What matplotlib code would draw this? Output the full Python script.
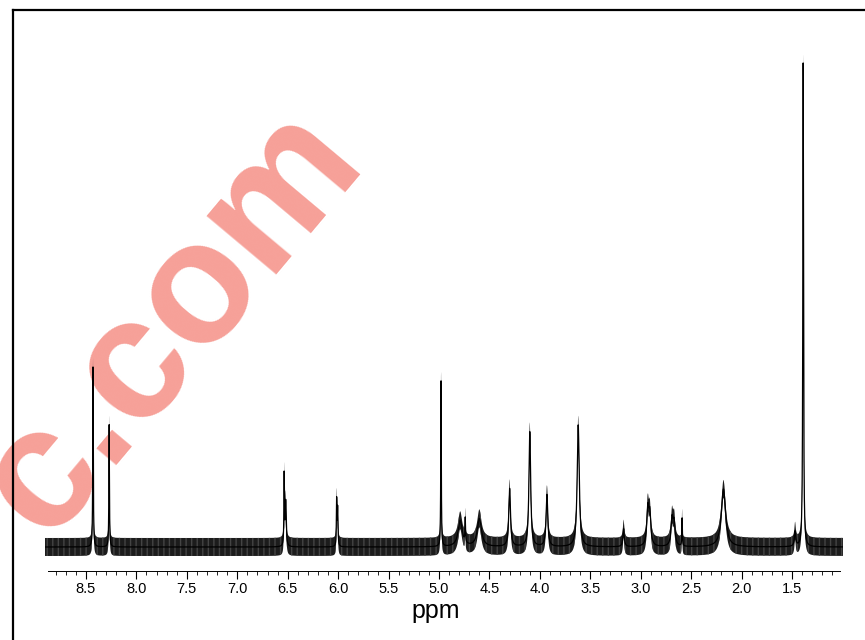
import numpy as np
import matplotlib
matplotlib.use("Agg")
import matplotlib.pyplot as plt
from matplotlib.lines import Line2D

# -------------------------------
# Peak table
# (shift in ppm, height above baseline, half width in ppm)
# -------------------------------
peak_ppm = [8.43, 8.27, 6.535, 6.52, 6.015, 6.005, 4.98, 4.79, 4.74, 4.60,
            4.30, 4.10, 3.93, 3.62, 3.17, 2.93, 2.91, 2.69, 2.67, 2.59,
            2.18, 1.47, 1.39]
peak_height = [180, 123, 70, 45, 45, 38, 166, 26, 24, 28,
               58, 115, 52, 122, 18, 36, 30, 26, 22, 28,
               58, 15, 484]
peak_width = [0.003, 0.003, 0.003, 0.006, 0.003, 0.004, 0.003, 0.025, 0.003, 0.025,
              0.010, 0.010, 0.010, 0.012, 0.008, 0.012, 0.012, 0.012, 0.012, 0.003,
              0.025, 0.008, 0.004]

major_ticks = [8.5, 8.0, 7.5, 7.0, 6.5, 6.0, 5.5, 5.0, 4.5, 4.0, 3.5, 3.0, 2.5, 2.0, 1.5]
tick_labels = ["8.5", "8.0", "7.5", "7.0", "6.5", "6.0", "5.5", "5.0",
               "4.5", "4.0", "3.5", "3.0", "2.5", "2.0", "1.5"]

ppm_left, ppm_right = 8.906, 0.995
noise_amp = 9  # half thickness of the baseline noise band

# -------------------------------
# Build the spectrum from the peak table (Lorentzian lines)
# -------------------------------
ppm = np.linspace(ppm_left, ppm_right, 12000)
spec = np.zeros_like(ppm)
for c, h, w in zip(peak_ppm, peak_height, peak_width):
    spec += h * w**2 / ((ppm - c)**2 + w**2)

# -------------------------------
# Figure
# -------------------------------
W, H = 865, 640
fig = plt.figure(figsize=(W / 100, H / 100), dpi=100)
plt.rcParams["font.family"] = ["Liberation Sans", "DejaVu Sans"]

# watermark behind everything
fig.text(172 / W, 1 - 322 / H, "c.com", rotation=50, fontsize=124,
         fontweight="bold", color="#f6a098", ha="center", va="center",
         family="Liberation Sans", zorder=-5)

# outer frame (left and top edges)
fig.add_artist(Line2D([13 / W, 13 / W], [0, 1 - 10 / H], transform=fig.transFigure,
                      color="black", lw=1.6))
fig.add_artist(Line2D([13 / W, 1], [1 - 10 / H, 1 - 10 / H], transform=fig.transFigure,
                      color="black", lw=1.6))

ax = fig.add_axes([45 / W, (H - 571) / H, (843 - 45) / W, 516 / H])
ax.patch.set_visible(False)

# baseline noise drawn as a dense band riding on the spectrum
ax.fill_between(ppm, spec - noise_amp, spec + noise_amp, facecolor="#1c1c1c",
                edgecolor="#444444", hatch="|||", lw=0)
ax.plot(ppm, spec, color="black", lw=0.9)

ax.set_xlim(ppm_left, ppm_right)
ax.set_ylim(-24, 492)

for s in ["top", "left", "right"]:
    ax.spines[s].set_visible(False)
ax.spines["bottom"].set_linewidth(0.7)
ax.spines["bottom"].set_bounds(8.88, 1.02)
ax.set_yticks([])

ax.set_xticks(major_ticks)
ax.set_xticklabels(tick_labels, fontsize=10.5)
ax.set_xticks(np.arange(1.1, 8.9, 0.1), minor=True)
ax.tick_params(axis="x", which="major", length=6, width=0.8, pad=2, direction="out")
ax.tick_params(axis="x", which="minor", length=3, width=0.6, direction="out")

fig.text(436 / W, 1 - 611 / H, "ppm", fontsize=18, ha="center", va="center")

fig.savefig("out.png", dpi=100)
